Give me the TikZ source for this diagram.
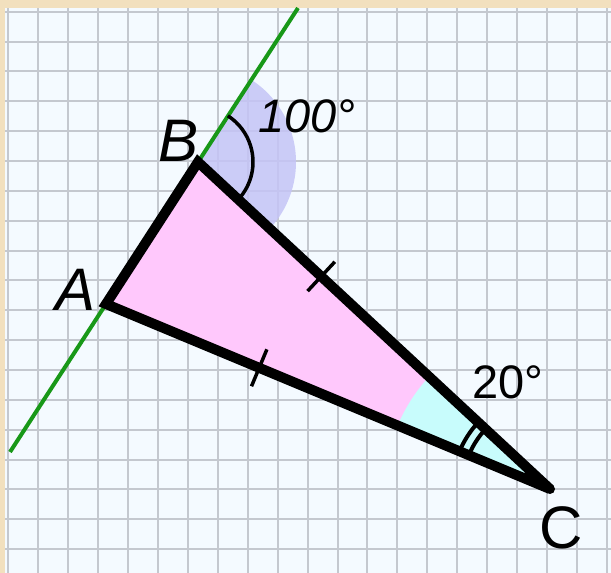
\documentclass[tikz,border=0pt]{standalone}
\usepackage{fontspec}
\setmainfont{Liberation Sans}
\usetikzlibrary{calc}
\definecolor{beige}{RGB}{242,224,190}
\definecolor{paper}{RGB}{244,250,255}
\definecolor{gridc}{RGB}{196,200,207}
\definecolor{lav}{RGB}{196,196,246}
\definecolor{pinkf}{RGB}{255,200,252}
\definecolor{cyanf}{RGB}{200,252,252}
\definecolor{greenl}{RGB}{24,152,24}
\begin{document}
\begin{tikzpicture}[x=1pt,y=1pt,
  gridline/.style={draw=gridc,line width=2pt},
  tri/.style={draw=black,line width=10pt,miter limit=2},
  greenline/.style={draw=greenl,line width=4pt},
  anglemark/.style={draw=black,line width=4pt},
  tickmark/.style={draw=black,line width=3.5pt},
  lbl/.style={font=\fontsize{60}{60}\selectfont,inner sep=0pt},
  deg/.style={font=\fontsize{47}{47}\selectfont,inner sep=0pt}]
\useasboundingbox (0,0) rectangle (611,573);
% background
\fill[beige] (0,0) rectangle (611,573);
\fill[paper] (5,0) rectangle (611,565);
\foreach \i in {0,...,20} \draw[gridline] ({8.4+29.92*\i},0) -- ({8.4+29.92*\i},565);
\foreach \j in {0,...,18} \draw[gridline] (5,{561.2-29.85*\j}) -- (611,{561.2-29.85*\j});
% points
\coordinate (A) at (106,269);
\coordinate (B) at (198,411);
\coordinate (C) at (550,84);
\coordinate (G1) at (10,121);
\coordinate (G2) at (298,565);
% exterior angle sector at B
\fill[lav,opacity=0.85] (B) -- ++(-42.9:98) arc[start angle=-42.9,end angle=57.1,radius=98] -- cycle;
% green line
\draw[greenline] (G1) -- (G2);
% triangle fill
\fill[pinkf] (A) -- (B) -- (C) -- cycle;
% angle sector at C
\fill[cyanf] (C) -- ++(137.1:165) arc[start angle=137.1,end angle=157.4,radius=165] -- cycle;
% angle marks
\draw[anglemark,line width=3.5pt] (B) ++(-42.9:55) arc[start angle=-42.9,end angle=57.1,radius=55];
\draw[anglemark] (C) ++(137.1:88) arc[start angle=137.1,end angle=157.4,radius=88];
\draw[anglemark] (C) ++(137.1:98) arc[start angle=137.1,end angle=157.4,radius=98];
% equal-side ticks
\coordinate (TB) at ($(B)!0.35!(C)$);
\coordinate (TA) at ($(A)!0.345!(C)$);
\draw[tickmark] ($(TB)!20pt!90:(C)$) -- ($(TB)!20pt!-90:(C)$);
\draw[tickmark] ($(TA)!20pt!90:(C)$) -- ($(TA)!20pt!-90:(C)$);
% triangle outline
\draw[tri] (A) -- (B) -- (C) -- cycle;
\fill[black] (C) circle (5);
% labels
\node[lbl,font=\fontsize{60}{60}\selectfont\itshape] (LB) at (179,432) {B};
\node[lbl,font=\fontsize{60}{60}\selectfont\itshape] (LA) at (76,283) {A};
\node[lbl] (LC) at (561,45) {C};
\node[deg,font=\fontsize{47}{47}\selectfont\itshape] (L100) at (307,457) {100°};
\node[deg] (L20) at (508,191) {20°};
\end{tikzpicture}
\end{document}
